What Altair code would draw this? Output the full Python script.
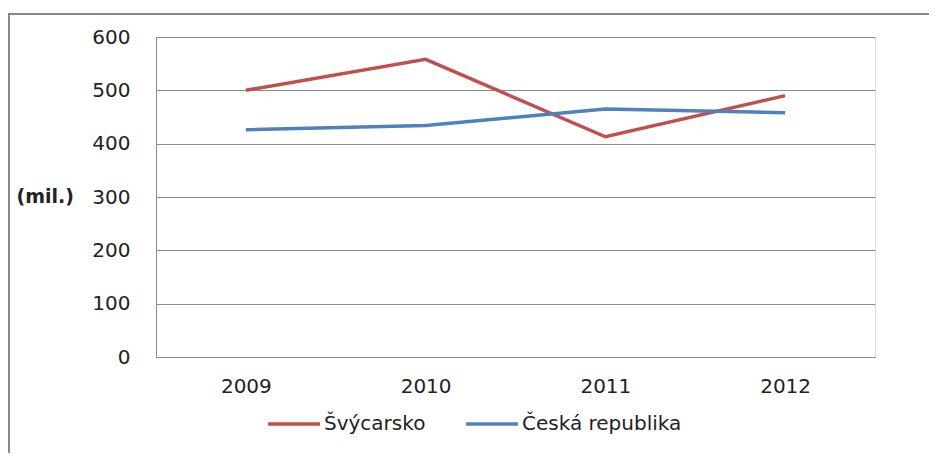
import altair as alt
import pandas as pd

years = ["2009", "2010", "2011", "2012"]
svycarsko = [500, 558, 413, 490]
ceska = [426, 434, 465, 458]
series_names = ["Švýcarsko", "Česká republika"]
colors = ["#C0504D", "#4F81BD"]

rows = []
for name, vals in zip(series_names, [svycarsko, ceska]):
    for y, v in zip(years, vals):
        rows.append({"rok": y, "hodnota": v, "serie": name})
df = pd.DataFrame(rows)

FONT = "DejaVu Sans"

border = alt.Chart(pd.DataFrame({"a": [0]})).mark_rect(
    fill=None, stroke="#888888", strokeWidth=2
).encode(
    x=alt.value(-147), x2=alt.value(900), y=alt.value(-23), y2=alt.value(500)
)

lines = alt.Chart(df).mark_line(strokeWidth=3.5).encode(
    x=alt.X("rok:O", title=None, sort=years,
            scale=alt.Scale(padding=0.5),
            axis=alt.Axis(labelAngle=0, ticks=False, domain=True, domainColor="#8a8a8a",
                          labelPadding=19, labelFontSize=20, labelFont=FONT, labelColor="#222")),
    y=alt.Y("hodnota:Q", scale=alt.Scale(domain=[0, 600]),
            axis=alt.Axis(values=[0, 100, 200, 300, 400, 500, 600], ticks=False,
                          domain=True, domainColor="#8a8a8a", gridColor="#8a8a8a",
                          labelPadding=26, labelFontSize=20, labelFont=FONT, labelColor="#222",
                          title="(mil.)", titleAngle=0, titleX=-140, titleY=159,
                          titleAlign="left", titleBaseline="middle",
                          titleFontSize=19, titleFont=FONT, titleFontWeight="bold",
                          titleColor="#222")),
    color=alt.Color("serie:N", sort=series_names,
                    scale=alt.Scale(domain=series_names, range=colors),
                    legend=alt.Legend(title=None, orient="none", direction="horizontal",
                                      legendX=110, legendY=359, symbolType="stroke",
                                      symbolSize=2700, symbolStrokeWidth=3.5,
                                      labelFontSize=20, labelFont=FONT, labelColor="#222",
                                      labelOffset=2, columnPadding=33)),
)

chart = alt.layer(border, lines).properties(
    width=719, height=320,
    autosize=alt.AutoSizeParams(type="none"),
    padding={"left": 148, "top": 29, "right": 54, "bottom": 96},
).configure_view(stroke=None).configure(background="white")

chart.save("out.html", embed_options={"renderer": "svg", "actions": False})
